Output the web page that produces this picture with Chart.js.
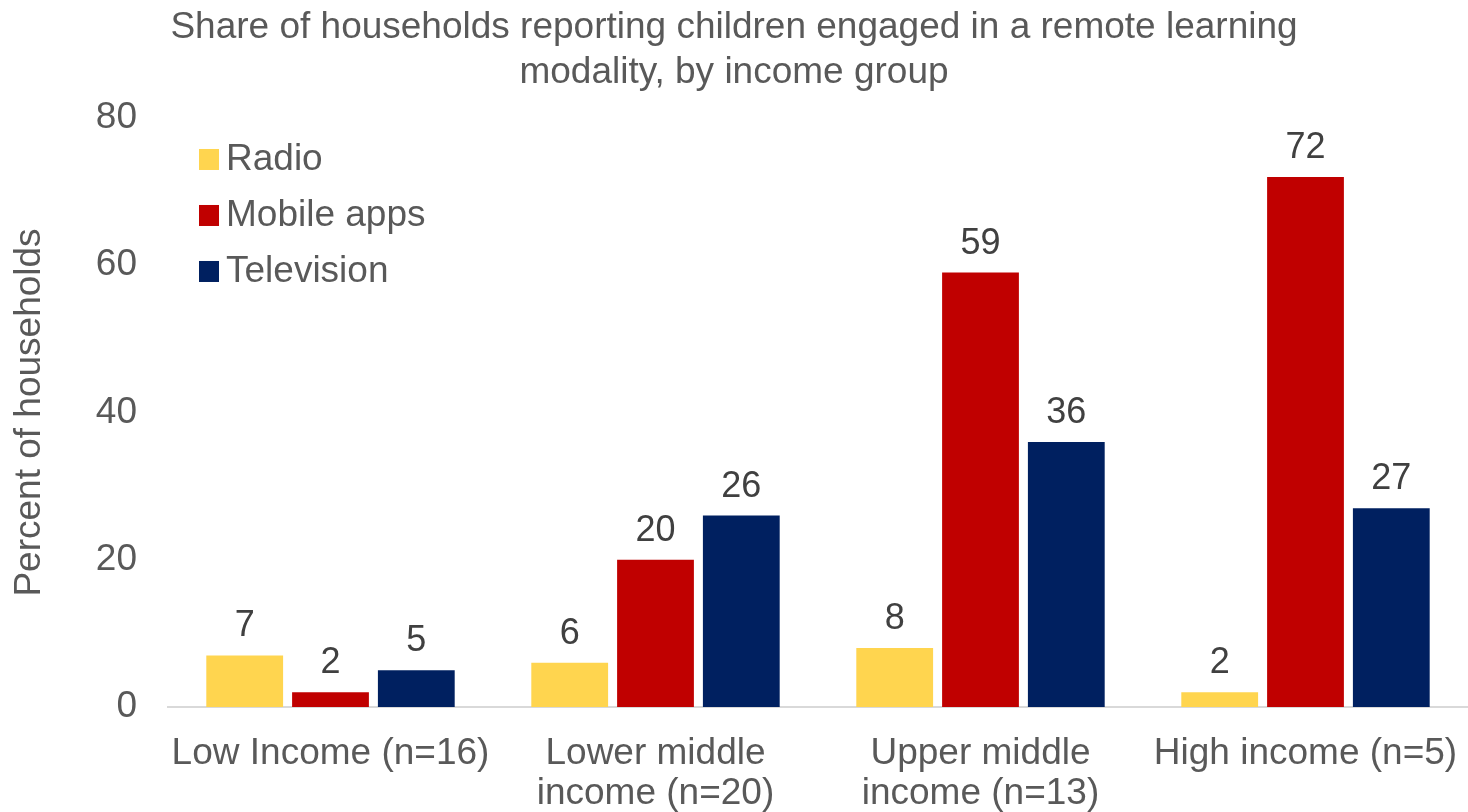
<!DOCTYPE html>
<html>
<head>
<meta charset="utf-8">
<script src="https://cdn.jsdelivr.net/npm/chart.js@4.4.1/dist/chart.umd.min.js"></script>
<style>
	html, body { margin: 0; padding: 0; background: #fff; }
	#wrap { width: 1468px; height: 812px; }
</style>
</head>
<body>
<div id="wrap"><canvas id="chart" width="1468" height="812"></canvas></div>
<script>
const incomeGroups = [
	['Low Income (n=16)'],
	['Lower middle', 'income (n=20)'],
	['Upper middle', 'income (n=13)'],
	['High income (n=5)']
];
const radio = [7, 6, 8, 2];
const mobileApps = [2, 20, 59, 72];
const television = [5, 26, 36, 27];
const yTicks = [0, 20, 40, 60, 80];

const FONT = '"Liberation Sans", Arial, sans-serif';
const GREY = '#595959';

// value labels above each bar
const barLabels = {
	id: 'barLabels',
	afterDatasetsDraw(chart) {
		const ctx = chart.ctx;
		ctx.save();
		ctx.font = '36px ' + FONT;
		ctx.fillStyle = '#404040';
		ctx.textAlign = 'center';
		ctx.textBaseline = 'alphabetic';
		chart.data.datasets.forEach((ds, i) => {
			chart.getDatasetMeta(i).data.forEach((bar, j) => {
				ctx.fillText(String(ds.data[j]), bar.x, bar.y - 19);
			});
		});
		ctx.restore();
	}
};

// legend sits inside the plot, top left
const innerLegend = {
	id: 'innerLegend',
	afterDraw(chart) {
		const ctx = chart.ctx;
		const area = chart.chartArea;
		ctx.save();
		ctx.font = '37px ' + FONT;
		ctx.textBaseline = 'middle';
		chart.data.datasets.forEach((ds, i) => {
			const y = area.top + 41 + i * 56;
			const x = area.left + 31;
			ctx.fillStyle = ds.backgroundColor;
			ctx.fillRect(x, y - 10, 20, 21);
			ctx.fillStyle = GREY;
			ctx.fillText(ds.label, x + 27, y + 1);
		});
		ctx.restore();
	}
};

new Chart(document.getElementById('chart'), {
	type: 'bar',
	data: {
		labels: incomeGroups,
		datasets: [
			{ label: 'Radio', data: radio, backgroundColor: '#FFD54F' },
			{ label: 'Mobile apps', data: mobileApps, backgroundColor: '#C00000' },
			{ label: 'Television', data: television, backgroundColor: '#002060' }
		]
	},
	options: {
		responsive: false,
		animation: false,
		categoryPercentage: 0.792,
		barPercentage: 0.895,
		layout: { padding: 0 },
		plugins: {
			legend: { display: false },
			tooltip: { enabled: false },
			title: {
				display: true,
				text: ['Share of households reporting children engaged in a remote learning', 'modality, by income group'],
				color: GREY,
				font: { family: FONT, size: 37, weight: 'normal', lineHeight: 1.216 },
				padding: { top: 5, bottom: 23 }
			}
		},
		scales: {
			x: {
				grid: { display: false },
				border: { display: true, color: '#D9D9D9', width: 2 },
				ticks: {
					color: GREY,
					padding: 18,
					maxRotation: 0,
					autoSkip: false,
					font: { family: FONT, size: 37, lineHeight: 1.1 }
				},
				afterFit(scale) {
					scale.height = 105;
					scale.paddingLeft = 0;
					scale.paddingRight = 0;
				}
			},
			y: {
				min: 0,
				max: 80,
				grid: { display: false },
				border: { display: false },
				afterBuildTicks(scale) { scale.ticks = yTicks.map(v => ({ value: v })); },
				ticks: {
					color: GREY,
					padding: 23,
					font: { family: FONT, size: 37 }
				},
				title: {
					display: true,
					text: 'Percent of households',
					color: GREY,
					font: { family: FONT, size: 37 },
					padding: { top: 8, bottom: 0 }
				},
				afterFit(scale) { scale.width = 168; }
			}
		}
	},
	plugins: [barLabels, innerLegend]
});
</script>
</body>
</html>
